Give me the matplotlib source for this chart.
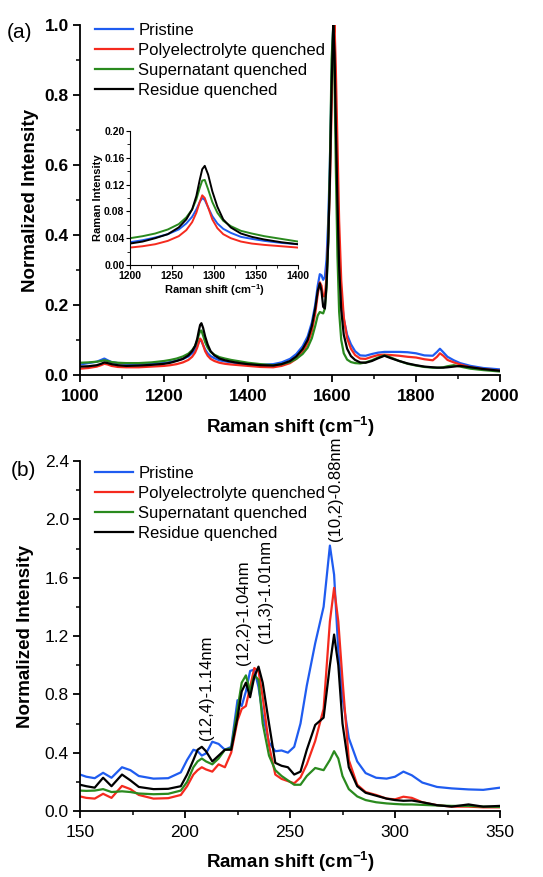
# Raman spectra of SWCNT samples, panel (a) D/G band, panel (b) RBM region
# USAGE
# python plot.py

import numpy as np
import matplotlib
matplotlib.use('Agg')
from matplotlib import pyplot as plt
from matplotlib.ticker import MultipleLocator

plt.rcParams['font.family'] = ['Liberation Sans', 'DejaVu Sans']
plt.rcParams['mathtext.default'] = 'regular'

labels = ['Pristine', 'Polyelectrolyte quenched', 'Supernatant quenched', 'Residue quenched']
colors = ['#1f5cf0', '#f52a1e', '#2a8a1e', '#000000']

# panel (a): 1000-2000 cm-1
shift_a = [1000, 1020, 1040, 1050, 1058, 1066, 1075, 1090, 1110, 1140,
           1170, 1200, 1215, 1230, 1245, 1258, 1267, 1274, 1279, 1283,
           1286, 1289, 1293, 1298, 1304, 1311, 1320, 1332, 1345, 1360,
           1380, 1400, 1430, 1460, 1480, 1500, 1515, 1530, 1542, 1552,
           1560, 1566, 1571, 1575, 1579, 1583, 1587, 1591, 1595, 1599,
           1603, 1606, 1609, 1613, 1617, 1622, 1628, 1636, 1645, 1655,
           1667, 1680, 1695, 1710, 1725, 1740, 1760, 1780, 1800, 1820,
           1840, 1850, 1857, 1865, 1875, 1890, 1905, 1930, 1960, 2000]
pristine_a = [.030, .034, .038, .043, .047, .042, .037, .034, .032, .032,
              .033, .034, .037, .041, .046, .053, .062, .072, .083, .094,
              .100, .097, .086, .073, .062, .054, .048, .042, .039, .036,
              .033, .031, .029, .031, .036, .046, .060, .082, .110, .150,
              .200, .255, .288, .285, .272, .280, .330, .440, .610, .850,
              1.00, .930, .760, .540, .360, .230, .160, .115, .088, .068,
              .056, .055, .060, .064, .066, .066, .066, .065, .062, .056,
              .055, .066, .075, .065, .052, .042, .034, .026, .020, .016]
poly_a = [.018, .020, .024, .028, .032, .030, .026, .023, .022, .022,
          .024, .026, .028, .031, .036, .043, .052, .064, .078, .094,
          .104, .100, .086, .068, .055, .046, .040, .035, .032, .030,
          .028, .026, .023, .022, .026, .034, .046, .065, .090, .125,
          .175, .230, .265, .255, .225, .225, .280, .390, .540, .760,
          .950, 1.00, .880, .660, .440, .270, .165, .105, .075, .057,
          .047, .046, .052, .057, .058, .057, .055, .052, .050, .045,
          .042, .052, .062, .055, .043, .036, .030, .022, .017, .012]
super_a = [.035, .036, .038, .040, .042, .040, .037, .035, .034, .034,
           .036, .040, .043, .047, .053, .061, .071, .083, .098, .115,
           .126, .127, .113, .094, .078, .066, .058, .051, .047, .043,
           .039, .035, .031, .028, .031, .037, .046, .060, .078, .105,
           .140, .170, .180, .178, .176, .190, .250, .380, .600, .900,
           1.00, .850, .600, .340, .180, .100, .062, .044, .037, .034,
           .033, .036, .042, .050, .056, .050, .040, .032, .027, .023,
           .021, .021, .021, .022, .025, .028, .024, .018, .014, .010]
residue_a = [.024, .025, .028, .032, .036, .034, .031, .028, .026, .027,
             .029, .032, .035, .040, .046, .056, .068, .083, .103, .127,
             .143, .148, .135, .110, .087, .068, .056, .047, .042, .038,
             .034, .031, .028, .027, .031, .040, .053, .074, .100, .140,
             .190, .240, .262, .240, .195, .190, .260, .380, .560, .820,
             1.00, .920, .720, .490, .310, .185, .115, .075, .054, .043,
             .036, .035, .040, .048, .055, .048, .040, .033, .028, .024,
             .022, .021, .021, .021, .022, .024, .026, .022, .017, .012]

# panel (b): RBM 150-350 cm-1
shift_b = [150, 153, 157, 161, 165, 170, 174, 178, 185, 192,
           198, 201, 204, 206, 208, 210, 213, 216, 219, 222,
           225, 227, 229, 231, 233, 235, 237, 240, 243, 246,
           249, 252, 255, 258, 262, 266, 269, 271, 273, 275,
           278, 282, 286, 291, 296, 300, 304, 308, 313, 320,
           327, 335, 342, 350]
pristine_b = [.250, .235, .225, .262, .228, .300, .280, .240, .222, .225,
              .265, .350, .420, .410, .380, .395, .475, .460, .420, .440,
              .760, .720, .820, .960, .970, .850, .660, .470, .410, .415,
              .400, .440, .600, .860, 1.15, 1.40, 1.82, 1.62, 1.10, .780,
              .500, .340, .260, .228, .222, .235, .270, .245, .195, .165,
              .155, .148, .145, .160]
poly_b = [.100, .090, .085, .118, .090, .172, .150, .110, .085, .088,
          .110, .170, .250, .280, .300, .285, .270, .320, .300, .400,
          .620, .700, .720, .850, .980, .960, .780, .450, .250, .220,
          .205, .190, .230, .320, .480, .700, 1.30, 1.53, 1.30, .900,
          .350, .180, .130, .110, .085, .080, .098, .090, .060, .040,
          .030, .030, .025, .025]
super_b = [.140, .138, .140, .150, .130, .135, .130, .120, .115, .118,
           .140, .200, .300, .340, .360, .340, .320, .360, .420, .430,
           .700, .880, .930, .820, .930, .900, .600, .380, .280, .240,
           .210, .180, .180, .240, .295, .280, .350, .410, .360, .240,
           .150, .100, .075, .060, .052, .048, .045, .045, .042, .038,
           .035, .035, .030, .028]
residue_b = [.180, .170, .160, .228, .170, .250, .210, .165, .150, .152,
             .170, .250, .350, .420, .440, .410, .340, .380, .420, .420,
             .640, .820, .880, .780, .920, .990, .880, .600, .330, .310,
             .300, .250, .270, .420, .590, .640, 1.00, 1.21, 1.00, .600,
             .300, .170, .125, .105, .085, .075, .070, .072, .060, .040,
             .030, .045, .030, .035]

# chirality labels over the RBM peaks
rbm_names = ['(12,4)-1.14nm', '(12,2)-1.04nm', '(11,3)-1.01nm', '(10,2)-0.88nm']
rbm_pos = [210, 228, 238.5, 271.5]
rbm_base = [0.49, 1.00, 1.15, 1.85]


def style_axes(ax):
    ax.spines['top'].set_visible(False)
    ax.spines['right'].set_visible(False)
    for s in ['left', 'bottom']:
        ax.spines[s].set_linewidth(1.3)
    ax.tick_params(which='major', direction='out', length=5, width=1.3, pad=3)
    ax.tick_params(which='minor', direction='out', length=3, width=1.1)


fig = plt.figure(figsize=(5.43, 8.77), dpi=100)

# ---- panel (a)
ax1 = fig.add_axes([80 / 543, 1 - 375 / 877, 420 / 543, 350 / 877])
series_a = [pristine_a, poly_a, super_a, residue_a]
for y, c, lab in zip(series_a, colors, labels):
    ax1.plot(shift_a, y, color=c, lw=1.6, label=lab)
ax1.set_xlim(1000, 2000)
ax1.set_ylim(0, 1.0)
ax1.xaxis.set_major_locator(MultipleLocator(200))
ax1.xaxis.set_minor_locator(MultipleLocator(100))
ax1.yaxis.set_major_locator(MultipleLocator(0.2))
ax1.yaxis.set_minor_locator(MultipleLocator(0.1))
style_axes(ax1)
ax1.tick_params(axis='x', pad=5)
for t in ax1.get_xticklabels() + ax1.get_yticklabels():
    t.set_fontweight('bold')
    t.set_fontsize(12.5)
ax1.set_xlabel('Raman shift (cm$^{-1}$)', fontsize=13.5, fontweight='bold', labelpad=8)
ax1.set_ylabel('Normalized Intensity', fontsize=13.5, fontweight='bold', labelpad=4)
ax1.legend(loc='upper left', bbox_to_anchor=(0.02, 1.024), frameon=False, fontsize=12,
           handlelength=2.3, handletextpad=0.3, labelspacing=0.3, borderaxespad=0)
fig.text(20 / 543, 1 - 33 / 877, '(a)', fontsize=15, va='center', ha='center')

# inset of the D band
ins = fig.add_axes([130 / 543, 1 - 265 / 877, 168 / 543, 134 / 877])
for y, c in zip(series_a, colors):
    ins.plot(shift_a, y, color=c, lw=1.4)
ins.set_xlim(1200, 1400)
ins.set_ylim(0, 0.2)
ins.xaxis.set_major_locator(MultipleLocator(50))
ins.xaxis.set_minor_locator(MultipleLocator(25))
ins.yaxis.set_minor_locator(MultipleLocator(0.02))
ins.spines['top'].set_visible(False)
ins.spines['right'].set_visible(False)
ins.tick_params(which='major', direction='out', length=3, width=0.8, labelsize=7.5, pad=1)
ins.tick_params(which='minor', direction='out', length=2, width=0.6)
ins.set_yticks(np.arange(0, 0.201, 0.04))
ins.set_yticklabels(['%.2f' % v for v in np.arange(0, 0.201, 0.04)])
for t in ins.get_xticklabels() + ins.get_yticklabels():
    t.set_fontweight('bold')
ins.set_xlabel('Raman shift (cm$^{-1}$)', fontsize=8, fontweight='bold', labelpad=1)
ins.set_ylabel('Raman Intensity', fontsize=8, fontweight='bold', labelpad=1)
ins.patch.set_alpha(0)

# ---- panel (b)
ax2 = fig.add_axes([80 / 543, 1 - 811 / 877, 420 / 543, 350 / 877])
series_b = [pristine_b, poly_b, super_b, residue_b]
for y, c, lab in zip(series_b, colors, labels):
    ax2.plot(shift_b, y, color=c, lw=1.6, label=lab)
ax2.set_xlim(150, 350)
ax2.set_ylim(0, 2.4)
ax2.xaxis.set_major_locator(MultipleLocator(50))
ax2.xaxis.set_minor_locator(MultipleLocator(25))
ax2.yaxis.set_major_locator(MultipleLocator(0.4))
ax2.yaxis.set_minor_locator(MultipleLocator(0.2))
style_axes(ax2)
ax2.tick_params(labelsize=12.5)
ax2.tick_params(axis='x', pad=5)
ax2.set_xlabel('Raman shift (cm$^{-1}$)', fontsize=13.5, fontweight='bold', labelpad=7)
ax2.set_ylabel('Normalized Intensity', fontsize=13.5, fontweight='bold', labelpad=8)
ax2.legend(loc='upper left', bbox_to_anchor=(0.02, 1.006), frameon=False, fontsize=12,
           handlelength=2.3, handletextpad=0.3, labelspacing=0.3, borderaxespad=0)
for name, xp, yb in zip(rbm_names, rbm_pos, rbm_base):
    ax2.text(xp, yb, name, rotation=90, ha='center', va='bottom', fontsize=12)
fig.text(23 / 543, 1 - 470 / 877, '(b)', fontsize=15, va='center', ha='center')

plt.savefig('out.png', dpi=100)
